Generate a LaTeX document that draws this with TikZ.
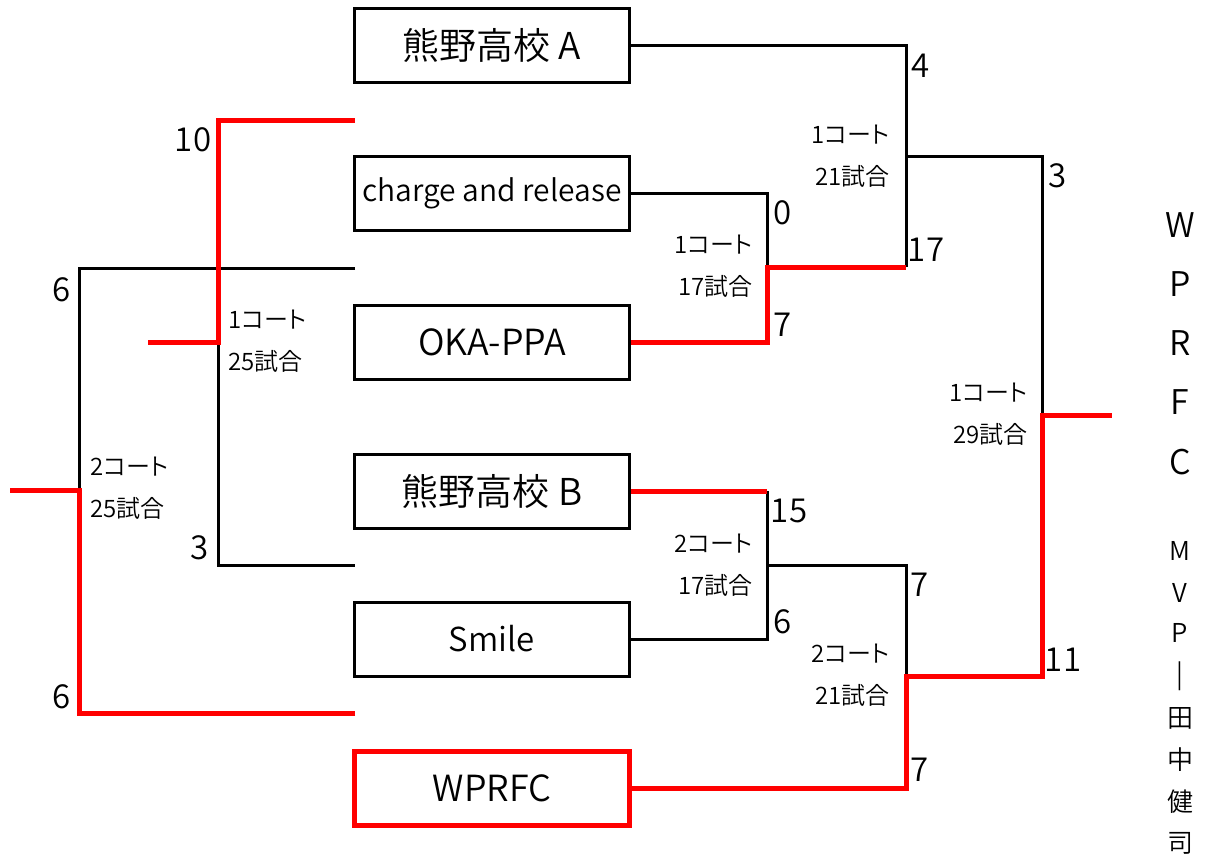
\documentclass[tikz,border=0pt]{standalone}
\usepackage{fontspec}
\setmainfont{Noto Sans CJK JP}[UprightFont=* DemiLight, RawFeature=+palt]
\begin{document}
\begin{tikzpicture}[x=1pt,y=-1pt,
  team/.style={draw, line width=3pt, minimum width=275pt, minimum height=74pt, inner sep=0pt, font=\fontsize{36}{40}\selectfont},
  winbox/.style={team, draw=red, line width=5pt},
  win/.style={draw=red, line width=5pt},
  lose/.style={draw=black, line width=3pt},
  score/.style={font=\fontsize{33}{38}\selectfont, inner sep=0pt},
  courtL/.style={font=\fontsize{24}{42}\selectfont, inner sep=0pt, align=left, anchor=west},
  courtR/.style={font=\fontsize{24}{42}\selectfont, inner sep=0pt, align=right, anchor=east},
  big/.style={font=\fontsize{34}{38}\selectfont, inner sep=0pt},
  small/.style={font=\fontsize{26}{30}\selectfont, inner sep=0pt},
]
\useasboundingbox (0,0) rectangle (1205,860);

% teams
\node[team, font=\fontsize{37}{40}\selectfont] (A) at (492,45) {熊野高校 A};
\node[team, font=\fontsize{30}{36}\selectfont] (CR) at (492,193) {charge and release};
\node[team] (OKA) at (492,342) {OKA-PPA};
\node[team, font=\fontsize{37}{40}\selectfont] (B) at (492,491) {熊野高校 B};
\node[team, font=\fontsize{33}{38}\selectfont] (SM) at (492,639) {Smile};
\node[winbox] (WP) at (492,788) {WPRFC};

% coordinates
\coordinate (s1) at (355,120);
\coordinate (s2) at (355,268);
\coordinate (s3) at (355,565);
\coordinate (s4) at (355,713);
\coordinate (l1t) at (218,120);
\coordinate (l1m) at (218,342);
\coordinate (l1b) at (218,565);
\coordinate (l1e) at (148,342);
\coordinate (l2t) at (79,268);
\coordinate (l2m) at (79,490);
\coordinate (l2b) at (79,713);
\coordinate (l2e) at (10,490);

\coordinate (r1a) at (767,193);
\coordinate (r1b) at (767,342);
\coordinate (r1m) at (767,267);
\coordinate (r2a) at (906,45);
\coordinate (r2b) at (906,267);
\coordinate (r2m) at (906,156);
\coordinate (r3a) at (1042,156);
\coordinate (r3m) at (1042,415);
\coordinate (r3b) at (1042,676);
\coordinate (r3e) at (1112,415);
\coordinate (r4a) at (767,491);
\coordinate (r4b) at (767,639);
\coordinate (r4m) at (767,565);
\coordinate (r5a) at (906,565);
\coordinate (r5b) at (906,788);
\coordinate (r5m) at (906,676);

% left bracket (black first)
\draw[lose] (s2) -- (l2t) -- (l2m);
\draw[lose] (l1m) -- (l1b) -- (s3);
\draw[win, line join=miter] (s1) -- (l1t) -- (l1m) -- (l1e);
\draw[win, line join=miter] (s4) -- (l2b) -- (l2m) -- (l2e);

% right bracket
\draw[lose] (A.east |- r2a) -- (r2a) -- (r2m);
\draw[lose] (r2m) -- (r3a) -- (r3m);
\draw[lose] (r2m) -- (r2b);
\draw[lose] (CR.east) -- (r1a) -- (r1m);
\draw[win, line join=miter] (OKA.east) -- (r1b) -- (r1m) -- (r2b);
\draw[lose] (r4a) -- (r4b) -- (SM.east);
\draw[lose] (r4m) -- (r5a) -- (r5m);
\draw[win, line join=miter] (B.east) -- (r4a);
\draw[win, line join=miter] (WP.east) -- (r5b) -- (r5m) -- (r3b) -- (r3m) -- (r3e);

% scores
\node[score] (n10) at (193,140) {10};
\node[score] (n6a) at (62,290) {6};
\node[score] (n6b) at (62,697) {6};
\node[score] (n3l) at (200,548) {3};
\node[score] (n4) at (921,66) {4};
\node[score] (n0) at (783,213) {0};
\node[score] (n7o) at (783,325) {7};
\node[score] (n17) at (926,250) {17};
\node[score] (n3r) at (1058,176) {3};
\node[score] (n11) at (1063,660) {11};
\node[score] (n15) at (789,511) {15};
\node[score] (n6s) at (783,622) {6};
\node[score] (n7u) at (920,585) {7};
\node[score] (n7d) at (920,770) {7};

% court labels
\node[courtL] (c1) at (228,341) {1コート\\25試合};
\node[courtL] (c2) at (90,488) {2コート\\25試合};
\node[courtR] (c3) at (753,266) {1コート\\17試合};
\node[courtR] (c4) at (890,156) {1コート\\21試合};
\node[courtR] (c5) at (1028,414) {1コート\\29試合};
\node[courtR] (c6) at (753,565) {2コート\\17試合};
\node[courtR] (c7) at (890,675) {2コート\\21試合};

% right vertical text
\node[big] (tW) at (1180,225) {W};
\node[big] (tP) at (1180,284) {P};
\node[big] (tR) at (1180,343) {R};
\node[big] (tF) at (1180,402) {F};
\node[big] (tC) at (1180,462) {C};
\node[small] (m1) at (1180,551) {M};
\node[small] (m2) at (1180,593) {V};
\node[small] (m3) at (1180,633) {P};
\node[small] (m4) at (1180,676) {|};
\node[small] (m5) at (1180,718) {田};
\node[small] (m6) at (1180,760) {中};
\node[small] (m7) at (1180,802) {健};
\node[small] (m8) at (1180,843) {司};
\end{tikzpicture}
\end{document}
